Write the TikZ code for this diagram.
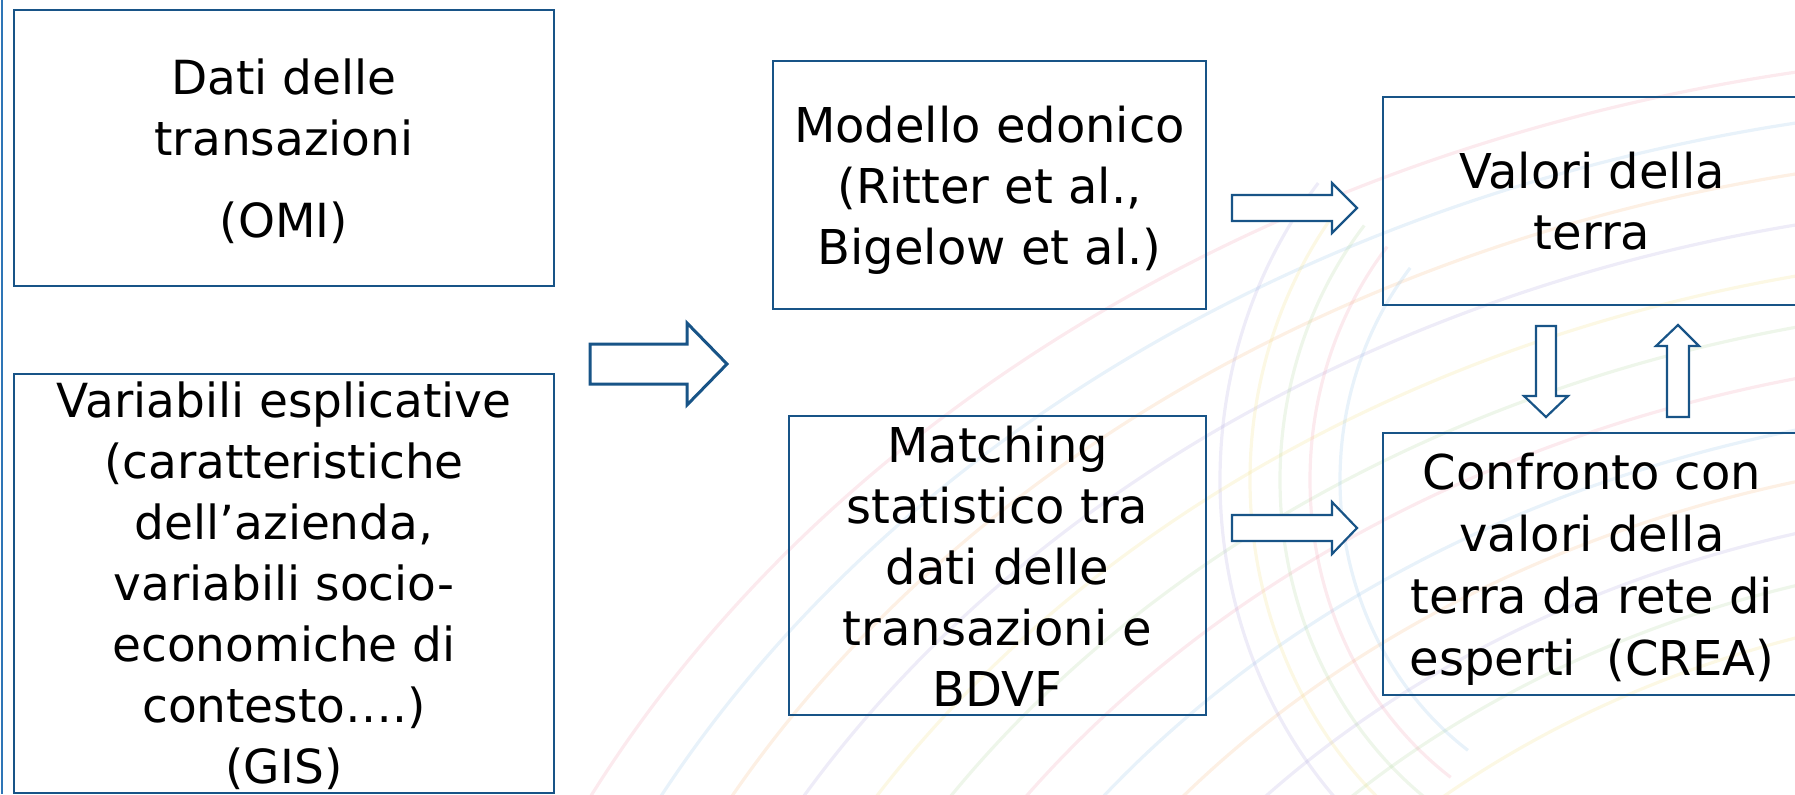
\documentclass[tikz,border=0pt]{standalone}
\usepackage{fontspec}
\setmainfont{DejaVu Sans}
\usetikzlibrary{fit}
\definecolor{boxblue}{RGB}{24,84,135}
\definecolor{edgeblue}{RGB}{46,117,182}
\definecolor{swpink}{RGB}{240,150,170}
\definecolor{swblue}{RGB}{140,190,230}
\definecolor{sworange}{RGB}{245,180,120}
\definecolor{swpurple}{RGB}{170,160,220}
\definecolor{swyellow}{RGB}{240,220,120}
\definecolor{swgreen}{RGB}{170,210,150}
\begin{document}
\begin{tikzpicture}[x=0.5pt,y=-0.5pt,
  box/.style={draw=boxblue, line width=1.2pt, inner sep=0pt},
  txtl/.style={inner sep=0pt, anchor=base, font=\fontsize{23.5}{30.5}\selectfont},
  txtr/.style={inner sep=0pt, anchor=base, font=\fontsize{24}{30.5}\selectfont},
  barrow/.style={draw=boxblue, line width=1.5pt, fill=white, line join=miter},
  sarrow/.style={draw=boxblue, line width=1.1pt, fill=white, line join=miter},
  swirl/.style={line width=1.6pt, opacity=0.2}]
\useasboundingbox (0,0) rectangle (1795,794);
% faint decorative background swirls
\foreach \ry/\c in {1350/swpink,1300/swblue,1250/sworange,1200/swpurple,1150/swyellow,1100/swgreen,1050/swpink,1000/swblue,950/sworange,900/swpurple,850/swgreen,800/swyellow}
  \draw[swirl,\c] ({2100-1.25*\ry},1400) arc[start angle=180,end angle=285,x radius={1.25*\ry},y radius=\ry];
\foreach \rx/\c in {300/swblue,330/swpink,360/swgreen,390/swyellow,420/swpurple}
  \draw[swirl,\c] ({1640+\rx*cos(125)},{480+1.1*\rx*sin(125)}) arc[start angle=125,end angle=220,x radius=\rx,y radius={1.1*\rx}];
% left edge line
\draw[edgeblue, line width=1pt] (2,0) -- (2,794);
% boxes
\node[box, fit={(14,10) (554,286)}] (b1) {};
\node[box, fit={(14,374) (554,793)}] (b2) {};
\node[box, fit={(773,61) (1206,309)}] (b3) {};
\node[box, fit={(789,416) (1206,715)}] (b4) {};
\node[box, fit={(1383,97) (1801,305)}] (b5) {};
\node[box, fit={(1383,433) (1801,695)}] (b6) {};
% texts
\node[txtl] (t1) at (284,94) {\begin{tabular}[t]{@{}c@{}}Dati delle\\transazioni\\[10.5pt](OMI)\end{tabular}};
\node[txtl] (t2) at (284,417) {\begin{tabular}[t]{@{}c@{}}Variabili esplicative\\(caratteristiche\\dell’azienda,\\variabili socio-\\economiche di\\contesto….)\\(GIS)\end{tabular}};
\node[txtr] (t3) at (989.5,142) {\begin{tabular}[t]{@{}c@{}}Modello edonico\\(Ritter et al.,\\Bigelow et al.)\end{tabular}};
\node[txtr] (t4) at (997.5,462) {\begin{tabular}[t]{@{}c@{}}Matching\\statistico tra\\dati delle\\transazioni e\\BDVF\end{tabular}};
\node[txtr] (t5) at (1592,188) {\begin{tabular}[t]{@{}c@{}}Valori della\\terra\end{tabular}};
\node[txtr, font=\fontsize{24}{31}\selectfont] (t6) at (1592,489) {\begin{tabular}[t]{@{}c@{}}Confronto con\\valori della\\terra da rete di\\esperti~~(CREA)\end{tabular}};
% block arrows
\draw[barrow] (590,344) -- (687,344) -- (687,323) -- (727,364) -- (687,405) -- (687,384) -- (590,384) -- cycle;
\draw[sarrow] (1232,195) -- (1332,195) -- (1332,183) -- (1357,208) -- (1332,233) -- (1332,221) -- (1232,221) -- cycle;
\draw[sarrow] (1232,515) -- (1332,515) -- (1332,502) -- (1357,528) -- (1332,554) -- (1332,541) -- (1232,541) -- cycle;
\draw[sarrow] (1536,326) -- (1556,326) -- (1556,396) -- (1568,396) -- (1546,417) -- (1524,396) -- (1536,396) -- cycle;
\draw[sarrow] (1667,417) -- (1689,417) -- (1689,346) -- (1699,346) -- (1678,325) -- (1656,346) -- (1667,346) -- cycle;
\end{tikzpicture}
\end{document}
